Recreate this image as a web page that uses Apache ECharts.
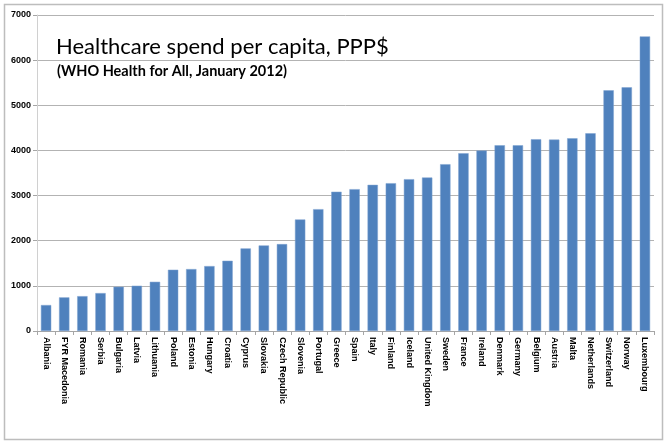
<!DOCTYPE html>
<html><head><meta charset="utf-8">
<script src="https://cdn.jsdelivr.net/npm/echarts@6/dist/echarts.min.js"></script>
<style>html,body{margin:0;padding:0;background:#fff}#c{width:668px;height:444px}</style>
</head><body><div id="c"></div>
<script>
const countries = ["Albania","FYR Macedonia","Romania","Serbia","Bulgaria","Latvia","Lithuania","Poland","Estonia","Hungary","Croatia","Cyprus","Slovakia","Czech Republic","Slovenia","Portugal","Greece","Spain","Italy","Finland","Iceland","United Kingdom","Sweden","France","Ireland","Denmark","Germany","Belgium","Austria","Malta","Netherlands","Switzerland","Norway","Luxembourg"];
const spend = [575,745,772,840,980,1003,1090,1357,1372,1438,1556,1829,1896,1925,2471,2699,3085,3142,3237,3274,3363,3400,3695,3938,3997,4115,4115,4248,4240,4270,4380,5332,5398,6526];
const yTicks = {min:0, max:7000, interval:1000};
const titleText = "Healthcare spend per capita, PPP$";
const subtitleText = "(WHO Health for All, January 2012)";

const chart = echarts.init(document.getElementById('c'), null, {renderer:'canvas'});
chart.setOption({
  animation:false,
  backgroundColor:'#ffffff',
  title:[
    {text:titleText, left:56, top:36, padding:0, textStyle:{fontFamily:'Lato', fontWeight:'normal', fontSize:22, color:'#000'}},
    {text:subtitleText, left:57, top:64, padding:0, textStyle:{fontFamily:'Lato', fontWeight:'bold', fontSize:14.5, color:'#000'}}
  ],
  graphic:[{type:'rect', shape:{x:4.5,y:4.5,width:658,height:435}, style:{fill:'none', stroke:'#bdbdbd', lineWidth:1.5}, silent:true, z:-1}],
  grid:{left:37, right:14, top:15, bottom:113, containLabel:false},
  xAxis:{
    type:'category', data:countries,
    axisLine:{lineStyle:{color:'#a6a6a6', width:1}},
    axisTick:{show:true, length:4, lineStyle:{color:'#a6a6a6'}},
    axisLabel:{interval:0, rotate:-90, margin:6, fontFamily:'Liberation Sans', fontWeight:'bold', fontSize:9, color:'#000'}
  },
  yAxis:{
    type:'value', min:yTicks.min, max:yTicks.max, interval:yTicks.interval,
    axisLine:{show:true, lineStyle:{color:'#d0d0d0'}},
    axisTick:{show:true, length:4, lineStyle:{color:'#a6a6a6'}},
    axisLabel:{margin:6, fontFamily:'Liberation Sans', fontWeight:'bold', fontSize:9, color:'#000', formatter:function(v){return String(v);}},
    splitLine:{lineStyle:{color:'#b3b3b3', width:1}}
  },
  series:[{type:'bar', data:spend, barWidth:'57%', itemStyle:{color:'#4f81bd', borderColor:'#7fa3d0', borderWidth:0.5}}]
});
</script></body></html>
